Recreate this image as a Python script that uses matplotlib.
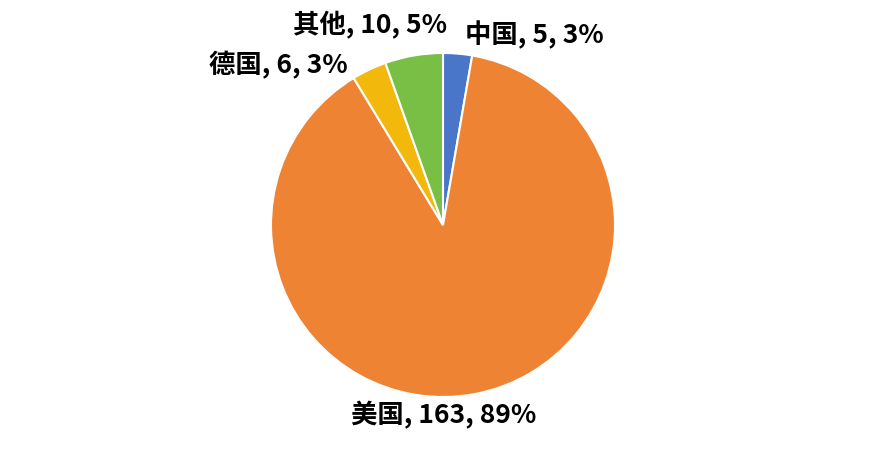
import numpy as np
import matplotlib.pyplot as plt

plt.rcParams['font.family'] = ['Noto Sans CJK SC', 'DejaVu Sans']

countries = ["中国", "美国", "德国", "其他"]
counts = [5, 163, 6, 10]
colors = ["#4A76C9", "#EE8433", "#F2B90C", "#7ABF45"]

# label centres in pixels (x, y from top), taken from the layout
label_pos = [(534, 35), (444, 415), (278, 65), (370, 25)]

W, H = 886, 450
fig = plt.figure(figsize=(W / 100, H / 100), dpi=100)
ax = fig.add_axes([0, 0, 1, 1])

ax.pie(counts, colors=colors, startangle=90, counterclock=False,
       center=(443, H - 225), radius=172,
       wedgeprops=dict(edgecolor="white", linewidth=1.5))

total = sum(counts)
for name, n, (x, y) in zip(countries, counts, label_pos):
    pct = round(100 * n / total)
    ax.text(x, H - y, f"{name}, {n}, {pct}%", ha="center", va="center",
            fontsize=19, fontweight="bold", color="black")

ax.set_xlim(0, W)
ax.set_ylim(0, H)
ax.set_aspect("auto")
ax.axis("off")

fig.savefig("out.png", dpi=100)
